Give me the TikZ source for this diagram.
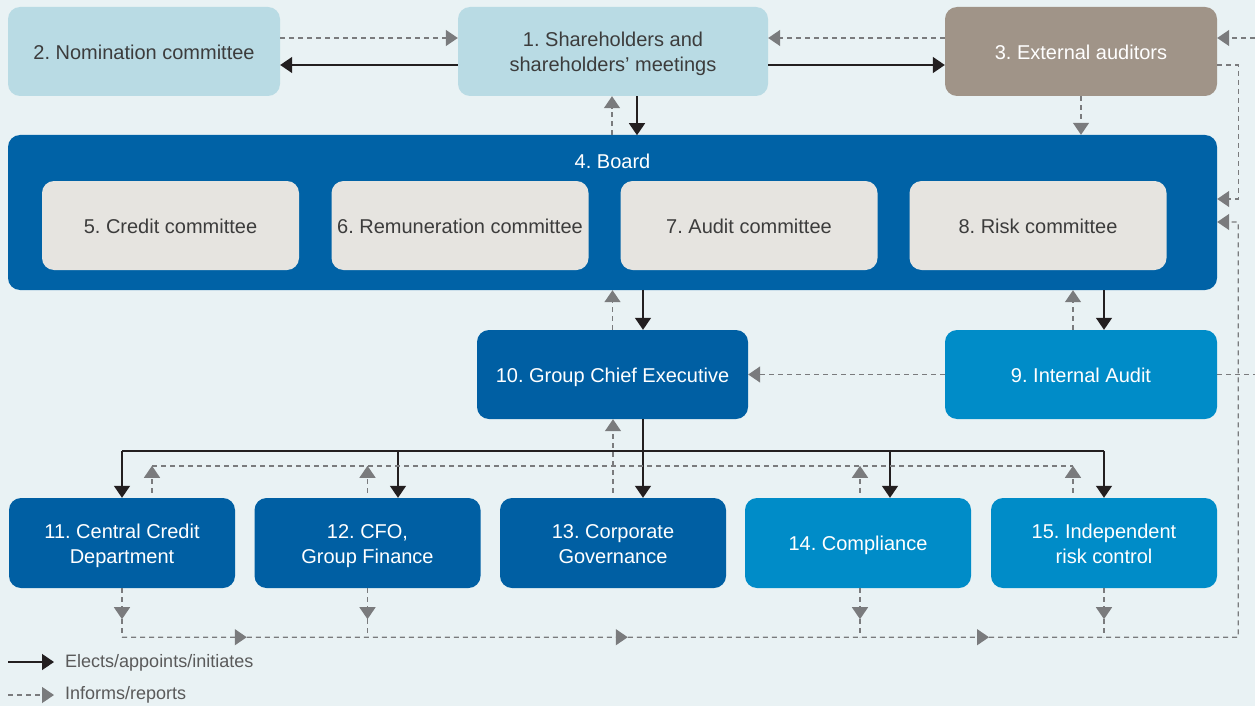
\documentclass[tikz,border=0pt]{standalone}
\usepackage{fontspec}
\setmainfont{Liberation Sans}
\usetikzlibrary{arrows.meta,calc}
\frenchspacing

\definecolor{bgc}{HTML}{E9F2F4}
\definecolor{paleblue}{HTML}{B9DBE4}
\definecolor{taupe}{HTML}{A09488}
\definecolor{navy}{HTML}{0062A6}
\definecolor{deepblue}{HTML}{005FA3}
\definecolor{skyblue}{HTML}{008CC8}
\definecolor{panelgrey}{HTML}{E6E4E0}
\definecolor{darktext}{HTML}{3C3C3C}
\definecolor{elecol}{HTML}{231F20}
\definecolor{infcol}{HTML}{7A7B7D}
\definecolor{legcol}{HTML}{5A5A5A}

% two-line label with fixed top and bottom struts so every block sits alike
\newcommand{\tline}[2]{\rule{0pt}{19.9pt}#1\\#2\rule[-4.5pt]{0pt}{4.5pt}}

\tikzset{
  box/.style={rectangle, rounded corners=12pt, inner sep=0pt, align=center,
    font=\fontsize{20}{25}\selectfont, minimum height=89pt},
  oneline/.style={text height=19.9pt, text depth=4.5pt},
  palebox/.style={box, fill=paleblue, text=darktext, minimum width=272pt},
  subbox/.style={box, oneline, fill=panelgrey, text=darktext, minimum width=257pt},
  darkbox/.style={box, fill=deepblue, text=white, minimum width=226pt, minimum height=90pt},
  lightbox/.style={box, fill=skyblue, text=white, minimum width=226pt, minimum height=90pt},
  tipshape/.style={-{Triangle[width=16pt,length=12pt]}},
  ele/.style={draw=elecol, line width=1.5pt, tipshape},
  elen/.style={draw=elecol, line width=1.5pt},
  inf/.style={draw=infcol, line width=1.4pt, dash pattern=on 5pt off 4pt, tipshape},
  infn/.style={draw=infcol, line width=1.4pt, dash pattern=on 5pt off 4pt},
  legtext/.style={anchor=west, inner sep=0pt, text=legcol, font=\fontsize{18}{20}\selectfont},
}

\begin{document}
\begin{tikzpicture}[x=1pt,y=-1pt]
\fill[bgc] (0,0) rectangle (1255,706);
\useasboundingbox (0,0) rectangle (1255,706);

% top row
\node[palebox, oneline] (nom) at (144,51.5) {2. Nomination committee};
\node[palebox, minimum width=310pt] (sh) at (613,51.5) {\tline{1. Shareholders and}{shareholders’ meetings}};
\node[box, oneline, fill=taupe, text=white, minimum width=272pt] (ext) at (1081,51.5) {3. External auditors};

% board with its committees
\node[box, fill=navy, minimum width=1209pt, minimum height=155pt] (brd) at (612.5,212.5) {};
\node[box, oneline, text=white, minimum height=0pt] (brdt) at ($(brd.north)+(0,26)$) {4. Board};
\node[subbox] (c5) at (170.5,225.5) {5. Credit committee};
\node[subbox] (c6) at (460,225.5) {6. Remuneration committee};
\node[subbox] (c7) at (749,225.5) {7. Audit committee};
\node[subbox] (c8) at (1038,225.5) {8. Risk committee};

% executive level
\node[box, oneline, fill=deepblue, text=white, minimum width=271pt] (gce) at (612.5,374.5) {10. Group Chief Executive};
\node[box, oneline, fill=skyblue, text=white, minimum width=272pt] (ia) at (1081,374.5) {9. Internal Audit};

% bottom row
\node[darkbox] (b11) at (122,543) {\tline{11. Central Credit}{Department}};
\node[darkbox] (b12) at (367.5,543) {\tline{12. CFO,}{Group Finance}};
\node[darkbox] (b13) at (613,543) {\tline{13. Corporate}{Governance}};
\node[lightbox, oneline] (b14) at (858,543) {14. Compliance};
\node[lightbox] (b15) at (1104,543) {\tline{15. Independent}{risk control}};

% top row connectors
\draw[inf] ($(nom.east)+(0,-13.5)$) -- ($(sh.west)+(0,-13.5)$);
\draw[ele] ($(sh.west)+(0,13.5)$) -- ($(nom.east)+(0,13.5)$);
\draw[ele] ($(sh.east)+(0,13.5)$) -- ($(ext.west)+(0,13.5)$);
\draw[inf] ($(ext.west)+(0,-13.5)$) -- ($(sh.east)+(0,-13.5)$);
\coordinate (offtop) at (1255,38);
\draw[inf] (offtop) -- (ext.east |- offtop);

% shareholders / auditors to board
\draw[ele] ($(sh.south)+(24,0)$) -- ($(sh.south)+(24,39)$);
\draw[inf] ($(sh.south)+(-1,39)$) -- ($(sh.south)+(-1,0)$);
\draw[inf] (ext.south) -- (ext.south |- brd.north);
\draw[inf] ($(ext.east)+(0,13.5)$) -| ($(brd.east)+(21,-13.5)$) -- ($(brd.east)+(0,-13.5)$);

% board to executive level
\draw[ele] ($(gce.north)+(30.5,-40)$) -- ($(gce.north)+(30.5,0)$);
\draw[inf] (gce.north) -- (gce.north |- brd.south);
\draw[ele] (b15.north |- brd.south) -- (b15.north |- ia.north);
\draw[inf] ($(b15.north |- ia.north)+(-31,0)$) -- ($(b15.north |- brd.south)+(-31,0)$);
\draw[inf] (ia.west) -- (gce.east);
\coordinate (offia) at (1255,374.5);
\draw[infn] (ia.east) -- (offia);

% executive to departments
\coordinate (sb) at ($(b11.north)+(0,-47)$);
\draw[ele] ($(gce.south)+(30.5,0)$) -- ($(b13.north)+(30,0)$);
\draw[elen] (sb) -- (sb -| b15.north);
\draw[ele] (sb) -- (b11.north);
\draw[ele] ($(b12.north)+(30.5,-47)$) -- ($(b12.north)+(30.5,0)$);
\draw[ele] ($(b14.north)+(32,-47)$) -- ($(b14.north)+(32,0)$);
\draw[ele] (sb -| b15.north) -- (b15.north);

% departments reporting upwards
\coordinate (db) at ($(b11.north)+(30,-32)$);
\draw[infn] (db) -- ($(b15.north)+(-31,-32)$);
\draw[inf] ($(b11.north)+(30,-5)$) -- (db);
\draw[inf] ($(b12.north)+(0,-5)$) -- ($(b12.north)+(0,-32)$);
\draw[inf] ($(b14.north)+(2,-5)$) -- ($(b14.north)+(2,-32)$);
\draw[inf] ($(b15.north)+(-31,-5)$) -- ($(b15.north)+(-31,-32)$);
\draw[inf] ($(b13.north)+(0,-5)$) -- (b13.north |- gce.south);

% reporting line along the bottom
\foreach \b/\dx in {b11/0, b12/0, b14/2, b15/0}{
  \draw[inf] ($(\b.south)+(\dx,0)$) -- ($(\b.south)+(\dx,31)$);
  \draw[infn] ($(\b.south)+(\dx,31)$) -- ($(\b.south)+(\dx,49)$);
}
\coordinate (j11) at ($(b11.south)+(0,49)$);
\coordinate (j12) at ($(b12.south)+(0,49)$);
\coordinate (j14) at ($(b14.south)+(2,49)$);
\coordinate (j15) at ($(b15.south)+(0,49)$);
\coordinate (m1) at ($(j11)!0.5!(j12)+(2,0)$);
\coordinate (m2) at ($(j12)!0.5!(j14)+(14,0)$);
\coordinate (m3) at ($(j14)!0.5!(j15)+(7,0)$);
\coordinate (corner) at ($(brd.east |- j15)+(21,0)$);
\draw[inf] (j11) -- (m1);
\draw[inf] (m1) -- (j12) -- (m2);
\draw[inf] (m2) -- (j14) -- (m3);
\draw[inf] (m3) -- (j15) -- (corner) |- ($(brd.east)+(0,9.5)$);

% legend
\coordinate (la) at (8,662);
\coordinate (lb) at (54,662);
\coordinate (lc) at (8,695);
\coordinate (ld) at (54,695);
\draw[ele] (la) -- (lb);
\draw[inf] (lc) -- (ld);
\node[legtext] (lt1) at (65,663) {Elects/appoints/initiates};
\node[legtext] (lt2) at (65,695) {Informs/reports};
\end{tikzpicture}
\end{document}
